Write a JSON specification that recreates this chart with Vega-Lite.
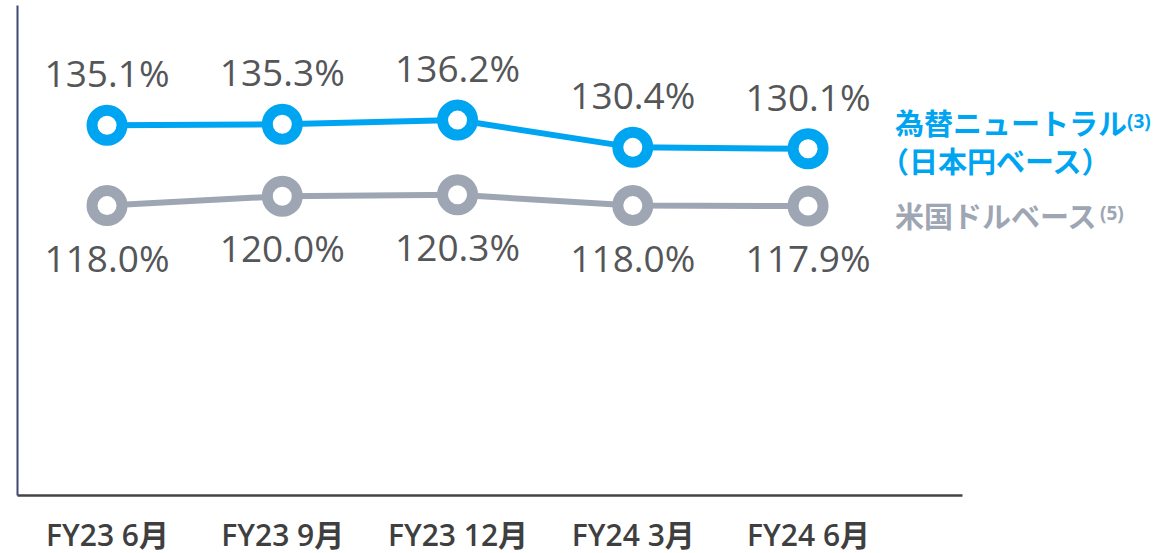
{
  "$schema": "https://vega.github.io/schema/vega-lite/v6.json",
  "width": 945,
  "height": 490,
  "autosize": {"type": "none"},
  "padding": {"left": 17, "top": 5, "right": 208, "bottom": 58},
  "background": "white",
  "config": {"view": {"stroke": null}},
  "datasets": {
    "series": [
      {"period": "FY23 6月", "series": "jpy", "value": 135.1},
      {"period": "FY23 9月", "series": "jpy", "value": 135.3},
      {"period": "FY23 12月", "series": "jpy", "value": 136.2},
      {"period": "FY24 3月", "series": "jpy", "value": 130.4},
      {"period": "FY24 6月", "series": "jpy", "value": 130.1},
      {"period": "FY23 6月", "series": "usd", "value": 118.0},
      {"period": "FY23 9月", "series": "usd", "value": 120.0},
      {"period": "FY23 12月", "series": "usd", "value": 120.3},
      {"period": "FY24 3月", "series": "usd", "value": 118.0},
      {"period": "FY24 6月", "series": "usd", "value": 117.9}
    ],
    "legend": [
      {"period": "FY24 6月", "series": "jpy", "value": 130.1, "name": "為替ニュートラル", "note": "(3)", "sub": "（日本円ベース）"},
      {"period": "FY24 6月", "series": "usd", "value": 117.9, "name": "米国ドルベース", "note": "(5)", "sub": ""}
    ]
  },
  "data": {"name": "series"},
  "encoding": {
    "x": {
      "field": "period",
      "type": "nominal",
      "scale": {"type": "point", "domain": ["FY23 6月", "FY23 9月", "FY23 12月", "FY24 3月", "FY24 6月"], "padding": 0.696, "align": 0.369},
      "axis": {
        "title": null,
        "ticks": false,
        "tickSize": 0,
        "grid": false,
        "domainColor": "#444444",
        "domainWidth": 2.5,
        "labelAngle": 0,
        "labelFont": "Open Sans, Noto Sans CJK JP",
        "labelFontSize": 30,
        "labelFontWeight": 600,
        "labelColor": "#3f3f3f",
        "labelBaseline": "alphabetic",
        "labelPadding": 50,
        "labelDx": 8
      }
    },
    "y": {
      "field": "value",
      "type": "quantitative",
      "scale": {"domain": [56.4, 160.7], "nice": false, "zero": false},
      "axis": {"title": null, "ticks": false, "labels": false, "grid": false, "domainColor": "#3d4873", "domainWidth": 2}
    }
  },
  "layer": [
    {
      "mark": {"type": "line", "strokeWidth": 6},
      "encoding": {
        "color": {"field": "series", "type": "nominal", "scale": {"domain": ["jpy", "usd"], "range": ["#00a5f2", "#9ea6b3"]}, "legend": null}
      }
    },
    {
      "mark": {"type": "point", "shape": "circle", "filled": true, "fill": "white", "opacity": 1, "size": 900, "strokeWidth": 11},
      "encoding": {
        "stroke": {"field": "series", "type": "nominal", "scale": {"domain": ["jpy", "usd"], "range": ["#00a5f2", "#9ea6b3"]}, "legend": null}
      }
    },
    {
      "transform": [{"filter": "datum.series === 'jpy'"}, {"calculate": "format(datum.value, '.1f') + '%'", "as": "lbl"}],
      "mark": {"type": "text", "font": "Open Sans", "fontWeight": 500, "fontSize": 37, "color": "#555658", "baseline": "alphabetic", "dy": -38},
      "encoding": {"text": {"field": "lbl"}}
    },
    {
      "transform": [{"filter": "datum.series === 'usd'"}, {"calculate": "format(datum.value, '.1f') + '%'", "as": "lbl"}],
      "mark": {"type": "text", "font": "Open Sans", "fontWeight": 500, "fontSize": 37, "color": "#555658", "baseline": "alphabetic", "dy": 66},
      "encoding": {"text": {"field": "lbl"}}
    },
    {
      "data": {"name": "legend"},
      "transform": [{"filter": "datum.series === 'jpy'"}],
      "mark": {"type": "text", "font": "Noto Sans CJK JP", "fontWeight": "bold", "fontSize": 29, "color": "#00a5f2", "align": "left", "baseline": "middle", "dx": 87, "dy": -23},
      "encoding": {"text": {"field": "name"}}
    },
    {
      "data": {"name": "legend"},
      "transform": [{"filter": "datum.series === 'jpy'"}],
      "mark": {"type": "text", "font": "Noto Sans CJK JP", "fontWeight": "bold", "fontSize": 29, "color": "#00a5f2", "align": "left", "baseline": "middle", "dx": 72, "dy": 15},
      "encoding": {"text": {"field": "sub"}}
    },
    {
      "data": {"name": "legend"},
      "transform": [{"filter": "datum.series === 'jpy'"}],
      "mark": {"type": "text", "font": "Open Sans", "fontWeight": "bold", "fontSize": 19, "color": "#00a5f2", "align": "left", "baseline": "middle", "dx": 319, "dy": -27},
      "encoding": {"text": {"field": "note"}}
    },
    {
      "data": {"name": "legend"},
      "transform": [{"filter": "datum.series === 'usd'"}],
      "mark": {"type": "text", "font": "Noto Sans CJK JP", "fontWeight": "bold", "fontSize": 29, "color": "#9ea6b3", "align": "left", "baseline": "middle", "dx": 87, "dy": 13},
      "encoding": {"text": {"field": "name"}}
    },
    {
      "data": {"name": "legend"},
      "transform": [{"filter": "datum.series === 'usd'"}],
      "mark": {"type": "text", "font": "Open Sans", "fontWeight": "bold", "fontSize": 19, "color": "#9ea6b3", "align": "left", "baseline": "middle", "dx": 292, "dy": 8},
      "encoding": {"text": {"field": "note"}}
    }
  ]
}
